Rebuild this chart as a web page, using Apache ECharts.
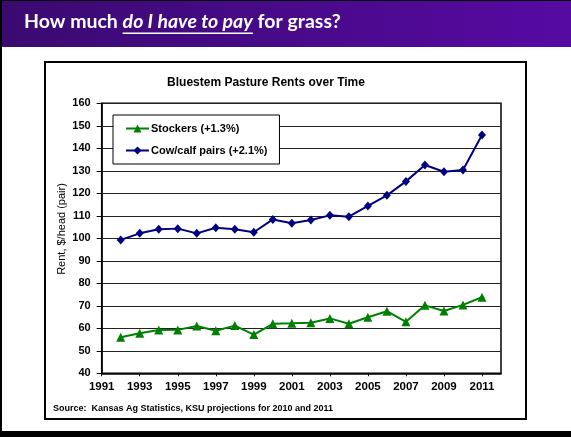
<!DOCTYPE html>
<html><head><meta charset="utf-8">
<script src="https://cdn.jsdelivr.net/npm/echarts@6/dist/echarts.min.js"></script>
<style>html,body{margin:0;padding:0;background:#fff}#c{width:571px;height:437px}</style>
</head><body><div id="c"></div>
<script>
const years = [1992,1993,1994,1995,1996,1997,1998,1999,2000,2001,2002,2003,2004,2005,2006,2007,2008,2009,2010,2011];
const stockers = [56.0,57.8,59.2,59.3,61.0,58.9,61.2,57.2,62.0,62.2,62.5,64.4,62.0,64.9,67.6,62.9,70.2,67.7,70.4,73.8];
const cowCalf = [99.3,102.2,104.0,104.3,102.2,104.7,104.0,102.7,108.4,106.7,108.1,110.2,109.6,114.4,119.1,125.3,132.6,129.6,130.4,145.9];
const seriesNames = ['Stockers (+1.3%)','Cow/calf pairs (+2.1%)'];
const yTicks = {min:40,max:160,step:10};
const xTicks = {min:1991,max:2012,step:2};
const pageTitle = ['How much ','do I have to pay',' for grass?'];
const chartTitle = 'Bluestem Pasture Rents over Time';
const yName = 'Rent, $/head (pair)';
const source = 'Source:  Kansas Ag Statistics, KSU projections for 2010 and 2011';

const chart = echarts.init(document.getElementById('c'));
const F = 'Liberation Sans, Arial, sans-serif';
const fA = 'bold 19.5px Lato, sans-serif';
const fB = 'italic bold 19.5px Lato, sans-serif';
const ctx = document.createElement('canvas').getContext('2d');
ctx.font = fA; const w0 = ctx.measureText(pageTitle[0]).width;
ctx.font = fB; const w1 = ctx.measureText(pageTitle[1]).width;
const tx = 24;
chart.setOption({
  animation:false,
  backgroundColor:'#fff',
  graphic:[
    {type:'rect',shape:{x:0,y:0,width:571,height:47},z:0,
     style:{fill:new echarts.graphic.LinearGradient(0,0,1,0,[{offset:0,color:'#3a0a70'},{offset:1,color:'#560aa2'}])}},
    {type:'rect',shape:{x:0,y:0,width:571,height:1},style:{fill:'#000'}},
    {type:'rect',shape:{x:0,y:0,width:2,height:437},style:{fill:'#000'}},
    {type:'rect',shape:{x:0,y:431,width:571,height:6},style:{fill:'#000'}},
    {type:'text',x:tx,y:22,style:{
      text:'{a|'+pageTitle[0]+'}{b|'+pageTitle[1]+'}{a|'+pageTitle[2]+'}',textVerticalAlign:'middle',
      rich:{a:{fill:'#fff',font:fA},b:{fill:'#fff',font:fB}}}},
    {type:'rect',shape:{x:tx+w0,y:32.5,width:w1,height:1.5},style:{fill:'#fff'}},
    {type:'rect',shape:{x:45,y:62,width:481,height:357},z:-1,style:{fill:'none',stroke:'#000',lineWidth:2}},
    {type:'text',x:266,y:83,style:{text:chartTitle,fill:'#000',font:'bold 12px '+F,textAlign:'center',textVerticalAlign:'middle'}},
    {type:'text',x:62,y:229,rotation:Math.PI/2,style:{text:yName,fill:'#000',font:'11px '+F,textAlign:'center',textVerticalAlign:'middle'}},
    {type:'text',x:53,y:409,style:{text:source,fill:'#000',font:'bold 9px '+F,textAlign:'left',textVerticalAlign:'middle'}}
  ],
  grid:{left:101.7,right:70,top:103.3,bottom:63.7,show:true,borderColor:'#000',borderWidth:1.5,backgroundColor:'transparent'},
  legend:{
    orient:'vertical',left:113,top:115,
    backgroundColor:'#fff',borderColor:'#000',borderWidth:1,
    padding:[8,12,8,12],itemGap:11,itemWidth:23,itemHeight:10,
    textStyle:{fontFamily:F,fontWeight:'bold',fontSize:11,color:'#000',padding:[0,0,0,-3]},
    data:seriesNames
  },
  xAxis:{type:'value',min:xTicks.min,max:xTicks.max,interval:xTicks.step,
    axisLine:{lineStyle:{color:'#000',width:1.5}},
    axisTick:{show:true,length:3,lineStyle:{color:'#000'}},
    splitLine:{show:false},
    axisLabel:{showMaxLabel:false,margin:8,color:'#000',fontFamily:F,fontWeight:'bold',fontSize:11.5,formatter:v=>String(v)}},
  yAxis:{type:'value',min:yTicks.min,max:yTicks.max,interval:yTicks.step,
    axisLine:{show:true,lineStyle:{color:'#000',width:1.5}},
    axisTick:{show:true,length:5,lineStyle:{color:'#000'}},
    splitLine:{lineStyle:{color:'#222',width:1}},
    axisLabel:{margin:11,color:'#000',fontFamily:F,fontWeight:'bold',fontSize:11}},
  series:[
    {name:seriesNames[0],type:'line',data:years.map((y,i)=>[y,stockers[i]]),
     symbol:'triangle',symbolSize:9,color:'#008000',lineStyle:{width:2,color:'#008000'},itemStyle:{color:'#008000'}},
    {name:seriesNames[1],type:'line',data:years.map((y,i)=>[y,cowCalf[i]]),
     symbol:'diamond',symbolSize:[8,9],color:'#000080',lineStyle:{width:2,color:'#000080'},itemStyle:{color:'#000080'}}
  ]
});
</script></body></html>
